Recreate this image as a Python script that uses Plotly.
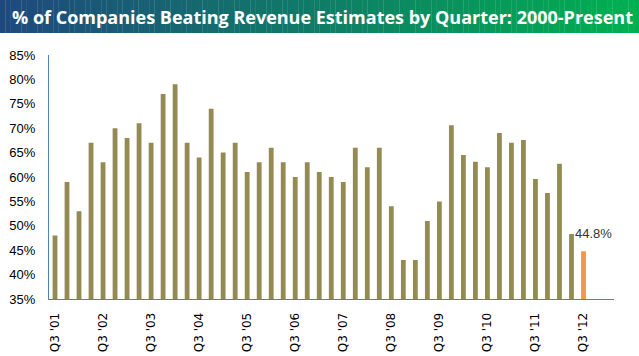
import plotly.graph_objects as go

quarters = []
for yr in range(1, 13):
    for q in ([3, 4] if yr == 1 else [1, 2, 3, 4]):
        if yr == 12 and q == 4:
            continue
        quarters.append(f"Q{q} '{yr:02d}")
# starts at Q3 '01, ends at Q3 '12
values = [48, 59, 53, 67, 63, 70, 68, 71, 67, 77, 79, 67, 64, 74, 65, 67,
          61, 63, 66, 63, 60, 63, 61, 60, 59, 66, 62, 66, 54, 43, 43, 51,
          55, 70.6, 64.5, 63.1, 62, 69, 67, 67.6, 59.6, 56.7, 62.7, 48.3, 44.8]
tick_labels = [q for q in quarters if q.startswith("Q3")]

colors = ["#948A54"] * (len(values) - 1) + ["#F79646"]

fig = go.Figure(go.Bar(x=quarters, y=values, marker_color=colors,
                       marker_line_width=0, hoverinfo="skip"))

# plot area in pixels: x 49..614, y 55..299
PL, PR, PT, PB = 49, 614, 55, 299
pw, ph = PR - PL, PB - PT

def px_x(x):
    return (x - PL) / pw

def px_y(y):
    return (PB - y) / ph

# gradient title bar
n = 120
c0 = (31, 73, 125)
c1 = (0, 176, 80)
shapes = []
for i in range(n):
    t = i / (n - 1)
    c = tuple(int(round(c0[k] + (c1[k] - c0[k]) * t)) for k in range(3))
    shapes.append(dict(type="rect", xref="paper", yref="paper",
                       x0=px_x(i * 639 / n), x1=px_x((i + 1.05) * 639 / n),
                       y0=px_y(33), y1=px_y(-1),
                       fillcolor=f"rgb{c}", line_width=0, layer="below"))
fig.update_layout(shapes=shapes)

fig.add_annotation(x=quarters[-1], y=values[-1], text=f"{values[-1]}%",
                   showarrow=False, xanchor="center", yanchor="bottom",
                   xshift=10, yshift=8,
                   font=dict(family="Liberation Sans", size=13, color="#333333"))
fig.add_annotation(xref="paper", yref="paper", x=px_x(322), y=px_y(17),
                   text="<b>% of Companies Beating Revenue Estimates by Quarter: 2000-Present</b>",
                   showarrow=False, xanchor="center", yanchor="middle",
                   font=dict(family="Open Sans", size=18, color="white"))

fig.update_layout(
    width=639, height=356,
    margin=dict(l=PL, r=639 - PR, t=PT, b=356 - PB),
    paper_bgcolor="white", plot_bgcolor="white",
    bargap=0.6, showlegend=False,
    xaxis=dict(type="category", tickmode="array", tickvals=tick_labels, ticktext=tick_labels,
               tickangle=-90, showline=True, linecolor="#4F81BD", linewidth=1,
               showgrid=False, ticks="", automargin=False, ticklabelstandoff=8,
               tickfont=dict(family="DejaVu Sans", size=12, color="black")),
    yaxis=dict(range=[35, 85], dtick=5, ticksuffix="%", showline=True, linecolor="#4F81BD",
               linewidth=1, showgrid=False, zeroline=False, ticks="", automargin=False,
               ticklabelstandoff=10,
               tickfont=dict(family="Liberation Sans", size=13, color="black")),
)

fig.write_html("out.html", config={"displayModeBar": False},
               post_script="document.body.style.margin='0px';document.body.style.overflow='hidden';")
